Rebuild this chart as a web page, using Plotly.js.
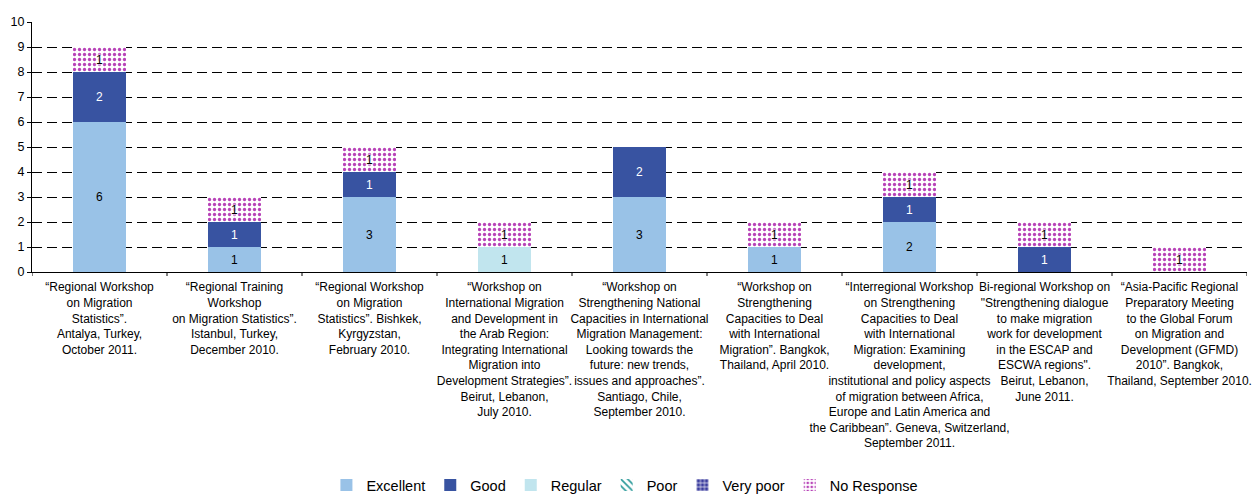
<!DOCTYPE html>
<html>
<head>
<meta charset="utf-8">
<script src="https://cdn.plot.ly/plotly-3.0.1.min.js"></script>
<style>html,body{margin:0;padding:0;background:#fff;}#chart{width:1257px;height:494px;}</style>
</head>
<body>
<div id="chart"></div>
<script>
const categories = [
  "“Regional Workshop<br>on Migration<br>Statistics”.<br>Antalya, Turkey,<br>October 2011.",
  "“Regional Training<br>Workshop<br>on Migration Statistics”.<br>Istanbul, Turkey,<br>December 2010.",
  "“Regional Workshop<br>on Migration<br>Statistics”. Bishkek,<br>Kyrgyzstan,<br>February 2010.",
  "“Workshop on<br>International Migration<br>and Development in<br>the Arab Region:<br>Integrating International<br>Migration into<br>Development Strategies”.<br>Beirut, Lebanon,<br>July 2010.",
  "“Workshop on<br>Strengthening National<br>Capacities in International<br>Migration Management:<br>Looking towards the<br>future: new trends,<br>issues and approaches”.<br>Santiago, Chile,<br>September 2010.",
  "“Workshop on<br>Strengthening<br>Capacities to Deal<br>with International<br>Migration”. Bangkok,<br>Thailand, April 2010.",
  "“Interregional Workshop<br>on Strengthening<br>Capacities to Deal<br>with International<br>Migration: Examining<br>development,<br>institutional and policy aspects<br>of migration between Africa,<br>Europe and Latin America and<br>the Caribbean”. Geneva, Switzerland,<br>September 2011.",
  "Bi-regional Workshop on<br>\"Strengthening dialogue<br>to make migration<br>work for development<br>in the ESCAP and<br>ESCWA regions\".<br>Beirut, Lebanon,<br>June 2011.",
  "“Asia-Pacific Regional<br>Preparatory Meeting<br>to the Global Forum<br>on Migration and<br>Development (GFMD)<br>2010”. Bangkok,<br>Thailand, September 2010."
];
const excellent  = [6, 1, 3, 0, 3, 1, 2, 0, 0];
const good       = [2, 1, 1, 0, 2, 0, 1, 1, 0];
const regular    = [0, 0, 0, 1, 0, 0, 0, 0, 0];
const poor       = [0, 0, 0, 0, 0, 0, 0, 0, 0];
const veryPoor   = [0, 0, 0, 0, 0, 0, 0, 0, 0];
const noResponse = [1, 1, 1, 1, 0, 1, 1, 1, 1];
const yTicks = [0,1,2,3,4,5,6,7,8,9,10];

const FONT = "Liberation Sans, Arial, sans-serif";
const idx = categories.map((_, i) => i);
function lbl(arr){ return arr.map(v => v > 0 ? String(v) : ""); }

function bar(name, vals, opts){
  return Object.assign({
    type: "bar", name: name, x: idx, y: vals,
    text: lbl(vals), textposition: "inside", insidetextanchor: "middle",
    constraintext: "none",
    textfont: {family: FONT, size: 12, color: "#000"},
    hoverinfo: "skip"
  }, opts);
}

const traces = [
  bar("Excellent", excellent, {marker: {color: "#99c2e7", line: {width: 0}}}),
  bar("Good", good, {marker: {color: "#3853a1", line: {width: 0}}, textfont: {family: FONT, size: 12, color: "#fff"}}),
  bar("Regular", regular, {marker: {color: "#c1e5ee", line: {width: 0}}}),
  bar("Poor", poor, {marker: {color: "#fff", line: {width: 0}, pattern: {shape: "\\", fgcolor: "#2a9a9a", bgcolor: "#fff", size: 6, solidity: 0.35}}}),
  bar("Very poor", veryPoor, {marker: {color: "#3b3d9e", line: {width: 0}, pattern: {shape: "+", fgcolor: "#fff", bgcolor: "#3b3d9e", size: 5, solidity: 0.3}}}),
  bar("No Response", noResponse, {
    marker: {color: "#fff", line: {width: 0}, pattern: {shape: ".", fgcolor: "#b843b8", bgcolor: "#fff", size: 5, solidity: 0.34}},
    textfont: {family: FONT, size: 12, color: "#000", shadow: "0px 0px 2px #fff, 0px 0px 3px #fff, 0px 0px 3px #fff, 0px 0px 4px #fff"}
  })
];

const layout = {
  width: 1257, height: 494,
  margin: {l: 32, r: 10, t: 22, b: 222, autoexpand: false},
  barmode: "stack",
  bargap: 0.61,
  paper_bgcolor: "#fff", plot_bgcolor: "#fff",
  font: {family: FONT, size: 12, color: "#000"},
  showlegend: true,
  legend: {
    orientation: "h", x: 0.488, xanchor: "center", y: -0.852, yanchor: "middle",
    font: {family: FONT, size: 14.5, color: "#000"},
    itemwidth: 30, traceorder: "normal", tracegroupgap: 0,
    bgcolor: "rgba(0,0,0,0)"
  },
  xaxis: {
    type: "linear", range: [-0.5, 8.5],
    tickmode: "array", tickvals: idx, ticktext: categories,
    tickangle: 0, showgrid: false, zeroline: false,
    showline: true, linecolor: "#000", linewidth: 1,
    ticks: "", ticklabelstandoff: 4,
    tickfont: {family: FONT, size: 12, color: "#000"},
    automargin: false
  },
  yaxis: {
    range: [0, 10], tickmode: "array", tickvals: yTicks, ticktext: yTicks.map(String),
    showgrid: true, gridcolor: "#000", gridwidth: 1, griddash: "10px,5px",
    zeroline: false, showline: true, linecolor: "#000", linewidth: 1,
    ticks: "outside", ticklen: 4, tickcolor: "#000",
    tickfont: {family: FONT, size: 12.5, color: "#000"},
    automargin: false
  },
  shapes: []
};
// category boundary tick marks on the x axis
for (let i = 0; i <= categories.length; i++) {
  layout.shapes.push({type: "line", xref: "x", yref: "paper", x0: i - 0.5, x1: i - 0.5, y0: 0, y1: -0.016, line: {color: "#000", width: 1}});
}

Plotly.newPlot("chart", traces, layout, {displayModeBar: false, staticPlot: true});
</script>
</body>
</html>
